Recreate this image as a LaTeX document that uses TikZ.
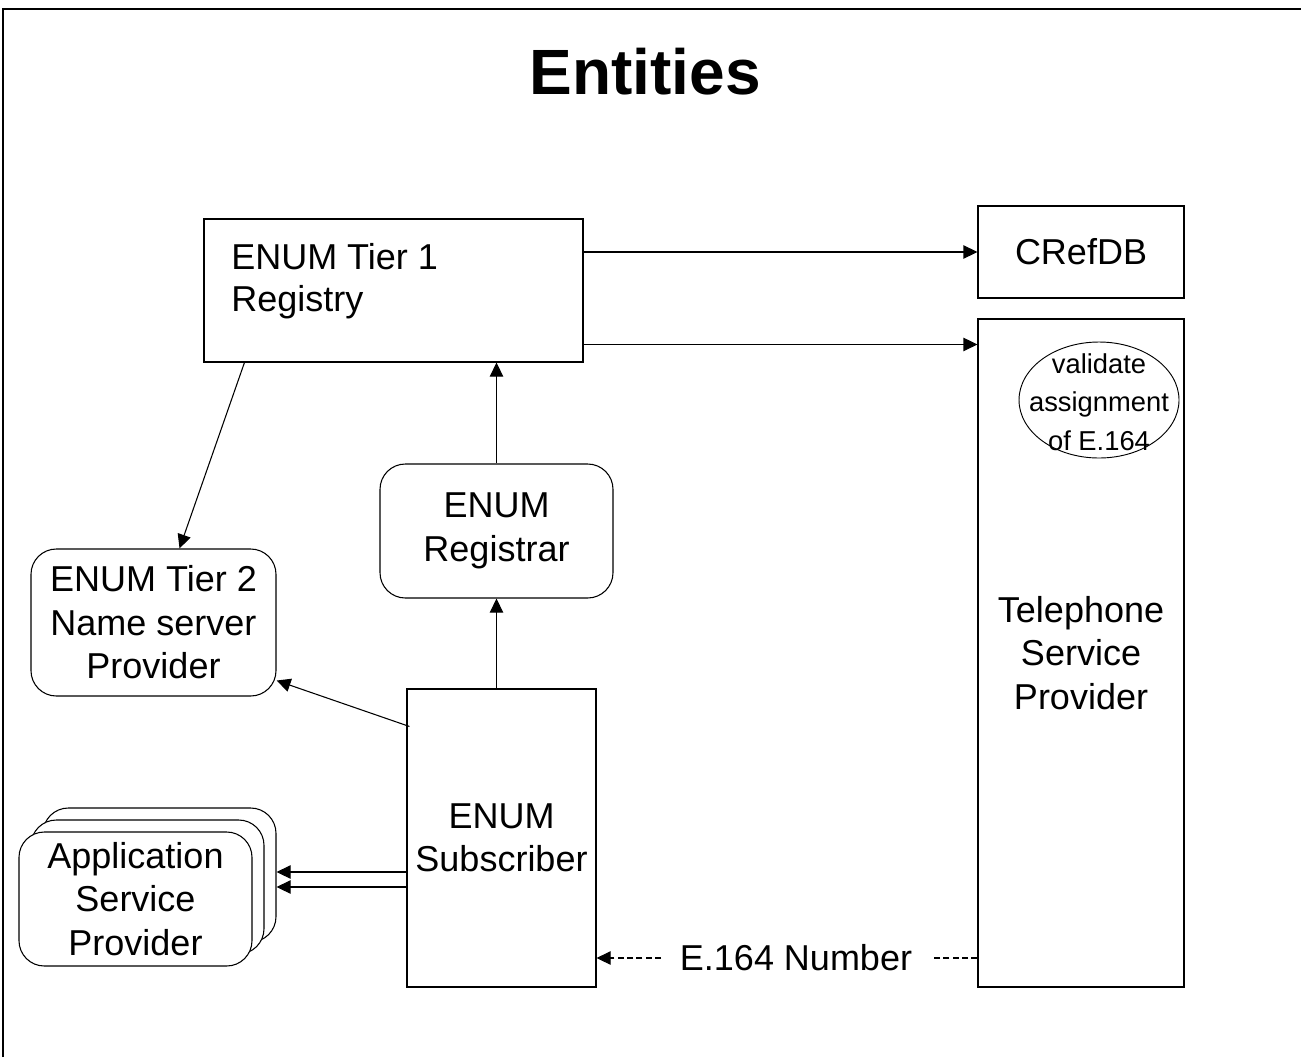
\documentclass[tikz,border=0pt]{standalone}
\usepackage{fontspec}
\setmainfont{Liberation Sans}
\usetikzlibrary{shapes.geometric,arrows.meta,calc}

\tikzset{
	entity/.style={draw, line width=0.8pt, inner sep=0pt, align=center, font=\fontsize{27}{32.6}\selectfont},
	roundentity/.style={entity, rounded corners=19pt, fill=white},
	link/.style={line width=0.8pt, -{Triangle[length=10.5pt,width=10pt]}},
	dashlink/.style={line width=0.8pt, dash pattern=on 4.5pt off 2.5pt},
}

\begin{document}
\begin{tikzpicture}[x=0.75pt,y=0.75pt,yscale=-1,xscale=1]
	\useasboundingbox (0,0) rectangle (1301,1057);

	%Frame
	\draw [line width=1.5pt] (3,1057) -- (3,9) -- (1301,9) ;

	% Text Node
	\node [anchor=base, font=\bfseries\fontsize{48}{58}\selectfont] (title) at (645,94) {Entities};

	% Text Node
	\node [entity, minimum width=284.25pt, minimum height=107.25pt] (reg) at (393.5,290.5) {};
	\node [anchor=west, align=left, inner sep=0pt, font=\fontsize{27}{31.5}\selectfont] (regtext) at (231,281) {ENUM Tier 1\\Registry};
	% Text Node
	\node [entity, minimum width=154.5pt, minimum height=69pt] (cref) at (1081,252) {CRefDB};
	% Text Node
	\node [entity, minimum width=154.5pt, minimum height=501pt] (tsp) at (1081,653) {Telephone\\Service\\Provider};
	\node [draw, ellipse, line width=0.7pt, minimum width=120pt, minimum height=87pt] (val) at (1099,400) {};
	\node [align=center, inner sep=0pt, font=\fontsize{20.5}{29}\selectfont] (valtext) at (1099,402) {validate\\assignment\\of E.164};
	% Text Node
	\node [roundentity, minimum width=174.75pt, minimum height=100.5pt] (rar) at (496.5,531) {ENUM\\Registrar};
	% Text Node
	\node [roundentity, minimum width=183.75pt, minimum height=110.25pt] (t2) at (153.5,622.5) {ENUM Tier 2\\Name server\\Provider};
	% Text Node
	\node [entity, minimum width=141.75pt, minimum height=223.5pt] (sub) at (501.5,838) {ENUM\\Subscriber};
	% Text Node
	\node [roundentity, minimum width=174.75pt, minimum height=100.5pt] (asp3) at (159.5,875) {};
	\node [roundentity, minimum width=174.75pt, minimum height=100.5pt] (asp2) at (147.5,887) {};
	\node [roundentity, minimum width=174.75pt, minimum height=100.5pt] (asp) at (135.5,899) {Application\\Service\\Provider};
	% Text Node
	\node [inner xsep=14pt, inner ysep=2pt, font=\fontsize{27}{32.6}\selectfont] (num) at (796,958) {E.164 Number};

	% Connection
	\draw [link] (reg.east |- cref.west) -- (cref.west) ;
	\coordinate (tspin) at ($(tsp.north west)+(0,26)$) ;
	\draw [link] (reg.east |- tspin) -- (tspin) ;
	% Connection
	\draw [link] (rar.north) -- (rar.north |- reg.south) ;
	\draw [link] (rar.south |- sub.north) -- (rar.south) ;
	% Connection
	\draw [link] ($(reg.south west)+(41,0)$) -- ($(t2.north)+(26,0)$) ;
	\draw [link] ($(sub.north west)+(3,38)$) -- ($(t2.south east)+(0,-16)$) ;
	% Connection
	\coordinate (aspa) at ($(sub.west)+(0,34)$) ;
	\coordinate (aspb) at ($(sub.west)+(0,49)$) ;
	\draw [link] (aspa) -- (aspa -| asp3.east) ;
	\draw [link] (aspb) -- (aspb -| asp3.east) ;
	% Connection
	\draw [dashlink] (tsp.west |- num) -- (num.east) ;
	\draw [dashlink, -{Triangle[length=10.5pt,width=10pt]}] (num.west) -- (num.west -| sub.east) ;

\end{tikzpicture}
\end{document}
